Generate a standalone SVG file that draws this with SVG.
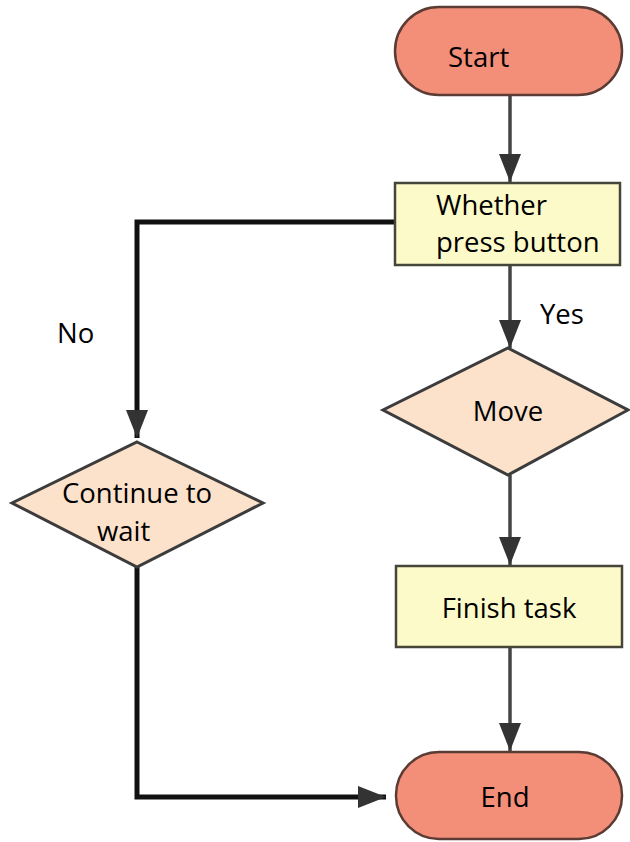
<svg xmlns="http://www.w3.org/2000/svg" width="630" height="842" viewBox="0 0 630 842">
  <style>
    .terminal { fill: #f38e78; stroke: #5b3c34; stroke-width: 2.5; }
    .process { fill: #fbfac8; stroke: #45453a; stroke-width: 2.5; }
    .decision { fill: #fde2cb; stroke: #3c3c3c; stroke-width: 3; }
    .label { font-family: "Open Sans", "Noto Sans", sans-serif; font-size: 27.5px; fill: #000; }
    .flow { fill: none; stroke: #444; stroke-width: 3.5; }
    .branch { fill: none; stroke: #111; stroke-width: 5; }
  </style>
  <defs>
    <marker id="arrow" markerUnits="userSpaceOnUse" markerWidth="28" markerHeight="24" viewBox="0 0 28 24" refX="28" refY="11" orient="auto">
      <path d="M0,0 L28,11 L0,22 Z" fill="#333"/>
    </marker>
  </defs>

  <rect width="630" height="842" fill="#fff"/>

  <!-- connectors -->
  <g id="connectors">
    <path class="flow" d="M510,95 L510,182" marker-end="url(#arrow)"/>
    <path class="flow" d="M510,265 L510,348" marker-end="url(#arrow)"/>
    <path class="flow" d="M510,475 L510,565" marker-end="url(#arrow)"/>
    <path class="flow" d="M510,647 L510,751" marker-end="url(#arrow)"/>
    <path class="branch" d="M395,222 L137,222 L137,438" marker-end="url(#arrow)"/>
    <path class="branch" d="M137,567 L137,797 L386,797" marker-end="url(#arrow)"/>
    <text class="label" x="540" y="324">Yes</text>
    <text class="label" x="57" y="343">No</text>
  </g>

  <!-- nodes -->
  <g id="start">
    <rect class="terminal" x="395" y="7" width="227" height="88" rx="44" ry="44"/>
    <text class="label" x="448" y="67">Start</text>
  </g>

  <g id="whether-press-button">
    <rect class="process" x="395" y="183" width="225" height="82"/>
    <text class="label" x="436" y="215">Whether</text>
    <text class="label" x="436" y="252">press button</text>
  </g>

  <g id="move">
    <polygon class="decision" points="508,348 628,410 508,475 383,410"/>
    <text class="label" x="508" y="421" text-anchor="middle">Move</text>
  </g>

  <g id="continue-to-wait">
    <polygon class="decision" points="137,442 263,503 137,567 12,503"/>
    <text class="label" x="62" y="503">Continue to</text>
    <text class="label" x="97" y="541">wait</text>
  </g>

  <g id="finish-task">
    <rect class="process" x="396" y="566" width="226" height="81"/>
    <text class="label" x="509" y="618" text-anchor="middle">Finish task</text>
  </g>

  <g id="end">
    <rect class="terminal" x="396" y="752" width="226" height="87" rx="43" ry="43"/>
    <text class="label" x="505" y="807" text-anchor="middle">End</text>
  </g>
</svg>
